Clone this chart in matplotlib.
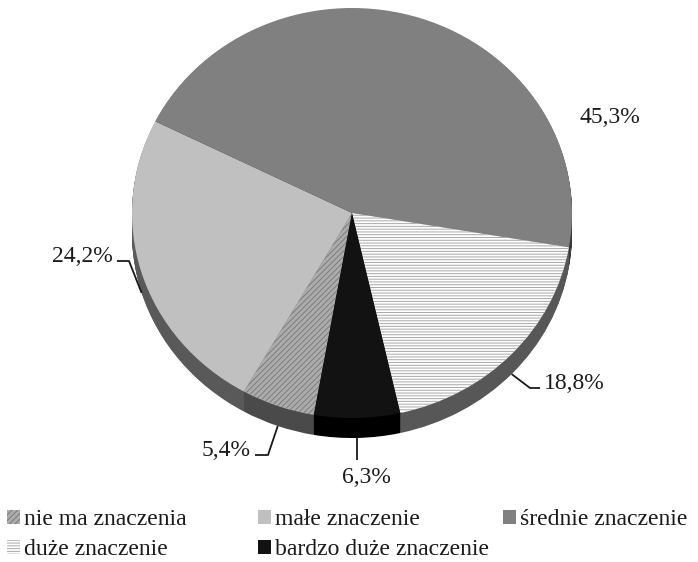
import matplotlib
matplotlib.use('Agg')
import matplotlib.pyplot as plt
import numpy as np

# ---- data ----
categories = ['nie ma znaczenia', 'małe znaczenie', 'średnie znaczenie',
              'duże znaczenie', 'bardzo duże znaczenie']
values = [5.4, 24.2, 45.3, 18.8, 6.3]
value_labels = ['5,4%', '24,2%', '45,3%', '18,8%', '6,3%']

# ---- styles ----
top_colors = ['#acacac', '#c0c0c0', '#808080', '#ffffff', '#121212']
top_hatch = ['//////', None, None, '------', None]
hatch_colors = ['#7c7c7c', None, None, '#a8a8a8', None]
side_colors = ['#4a4a4a', '#595959', '#3a3a3a', '#575757', '#000000']

W, H = 698, 562
CX, CY, RX, RY = 352, 213, 220, 205   # pie centre / radii in pixels
DEPTH = 20                           # 3-D thickness in pixels
START = 260

plt.rcParams['font.family'] = ['Liberation Serif', 'DejaVu Serif']
plt.rcParams['hatch.linewidth'] = 0.7
FS = 17

fig = plt.figure(figsize=(W / 100, H / 100), dpi=100)
ax = fig.add_axes([0, 0, 1, 1])

depth = DEPTH / RY
n_layers = 26
for k in range(n_layers, 0, -1):
    off = -depth * k / n_layers
    ax.pie(values, startangle=START, counterclock=False, colors=side_colors,
           center=(0, off), radius=1, wedgeprops=dict(linewidth=0))

wedges, _ = ax.pie(values, startangle=START, counterclock=False,
                   colors=top_colors, center=(0, 0), radius=1,
                   wedgeprops=dict(linewidth=0))
for w, h, hc in zip(wedges, top_hatch, hatch_colors):
    if h:
        w.set_hatch(h)
        w.set_edgecolor(hc)
        w.set_linewidth(0)

ax.set_aspect('auto')
ax.set_xlim(-CX / RX, (W - CX) / RX)
ax.set_ylim((CY - H) / RY, CY / RY)
ax.axis('off')


def d(px, py):
    return (px - CX) / RX, (CY - py) / RY


def edge_point(w):
    mid = np.deg2rad((w.theta1 + w.theta2) / 2)
    return np.cos(mid), np.sin(mid) - depth


# label layout (pixel positions of text and leader elbows)
label_layout = {
    0: dict(text=(251, 456), ha='right', path=[(268, 455), (255, 455)]),
    1: dict(text=(113, 262), ha='right', path=[(129, 261), (117, 261)]),
    2: dict(text=(579, 123), ha='left', path=None),
    3: dict(text=(544, 389), ha='left', path=[(530, 388), (540, 388)]),
    4: dict(text=(342, 483), ha='left', path='vertical'),
}

for i, w in enumerate(wedges):
    lay = label_layout[i]
    tx, ty = d(*lay['text'])
    ax.text(tx, ty, value_labels[i], ha=lay['ha'], va='baseline',
            fontsize=FS, color='#1a1a1a')
    if lay['path'] is None:
        continue
    ex, ey = edge_point(w)
    if lay['path'] == 'vertical':
        xs = [ex, ex]
        ys = [ey, d(0, 460)[1]]
    else:
        pts = [d(*p) for p in lay['path']]
        xs = [ex] + [p[0] for p in pts]
        ys = [ey] + [p[1] for p in pts]
    ax.plot(xs, ys, color='#1a1a1a', lw=1.3, solid_capstyle='butt')

# legend: three fixed columns, row-major order
cols = [[0, 3], [1, 4], [2]]
col_x = [7, 258, 503]
top_y = 509
for ci, idxs in enumerate(cols):
    fig.legend([wedges[i] for i in idxs], [categories[i] for i in idxs],
               loc='upper left',
               bbox_to_anchor=(col_x[ci] / W, 1 - top_y / H),
               bbox_transform=fig.transFigure,
               frameon=False, fontsize=FS, borderpad=0, borderaxespad=0,
               handlelength=0.55, handleheight=0.55, handletextpad=0.15,
               labelspacing=0.38, labelcolor='#1a1a1a')

fig.savefig('out.png', dpi=100)
